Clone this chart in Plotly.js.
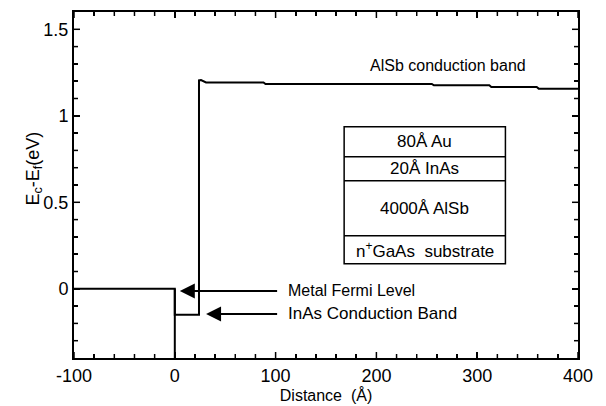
<!DOCTYPE html>
<html>
<head>
<meta charset="utf-8">
<script src="https://cdn.plot.ly/plotly-3.0.1.min.js"></script>
<style>html,body{margin:0;padding:0;background:#fff;}#chart{width:606px;height:406px;}</style>
</head>
<body>
<div id="chart"></div>
<script>
// Band profile (distance in Å, energy Ec-Ef in eV)
const distance = [-100, 0, 0, 24, 24, 26, 31, 88, 90, 255, 257, 312, 314, 359, 361, 400];
const energy   = [0, 0, -0.15, -0.15, 1.205, 1.207, 1.193, 1.193, 1.184, 1.184, 1.176, 1.176, 1.166, 1.166, 1.157, 1.156];
// Metal boundary
const metalX = [0, 0];
const metalY = [0, -0.4];

// Tick labels
const xTickVals = [-100, 0, 100, 200, 300, 400];
const xTickText = ["-100", "0", "100", "200", "300", "400"];
const yTickVals = [0, 0.5, 1, 1.5];
const yTickText = ["0", "0.5", "1", "1.5"];

// Layer stack inset (labels and layer boundaries in data units)
const layerLabels = ["80Å Au", "20Å InAs", "4000Å AlSb", "n<sup>+</sup>GaAs  substrate"];
const layerBounds = [0.936, 0.763, 0.624, 0.306, 0.145];
const boxX = [168, 328];

// Arrow labels
const arrowLabels = ["Metal Fermi Level", "InAs Conduction Band"];
const arrowHeadX = [5, 31];
const arrowY = [-0.012, -0.145];
const arrowTailX = 103;
const bandLabel = "AlSb conduction band";
const yTitle = "E<sub>c</sub>-E<sub>f</sub>(eV)";
const xTitle = "Distance  (Å)";

function draw() {
  const fam = "Liberation Sans, Arial, sans-serif";
  const tf = {family: fam, size: 18, color: "#000"};
  const X = [-100, 400], Y = [-0.4, 1.6];
  const plotW = 606 - 74 - 28, plotH = 406 - 12 - 48;

  const data = [
    {x: distance, y: energy, mode: "lines", line: {color: "#000", width: 2}, hoverinfo: "skip"},
    {x: metalX, y: metalY, mode: "lines", line: {color: "#000", width: 2}, hoverinfo: "skip"}
  ];

  const shapes = [];
  shapes.push({type: "rect", xref: "x", yref: "y", x0: boxX[0], x1: boxX[1],
    y0: layerBounds[layerBounds.length - 1], y1: layerBounds[0], line: {color: "#000", width: 1.5}});
  for (let i = 1; i < layerBounds.length - 1; i++) {
    shapes.push({type: "line", xref: "x", yref: "y", x0: boxX[0], x1: boxX[1],
      y0: layerBounds[i], y1: layerBounds[i], line: {color: "#000", width: 1.5}});
  }
  // fallback tick marks (inside, on all four sides)
  const tickShape = (isX, v, len) => {
    const out = [];
    if (isX) {
      const f = len / plotH;
      out.push({type: "line", xref: "x", yref: "paper", x0: v, x1: v, y0: 0, y1: f, line: {color: "#000", width: 1.5}});
      out.push({type: "line", xref: "x", yref: "paper", x0: v, x1: v, y0: 1 - f, y1: 1, line: {color: "#000", width: 1.5}});
    } else {
      const f = len / plotW;
      out.push({type: "line", xref: "paper", yref: "y", x0: 0, x1: f, y0: v, y1: v, line: {color: "#000", width: 1.5}});
      out.push({type: "line", xref: "paper", yref: "y", x0: 1 - f, x1: 1, y0: v, y1: v, line: {color: "#000", width: 1.5}});
    }
    return out;
  };
  for (let v = X[0]; v <= X[1] + 1e-9; v += 20) {
    shapes.push(...tickShape(true, v, xTickVals.includes(v) ? 6 : 4));
  }
  for (let k = -3; k <= 15; k++) {
    const v = Math.round(k * 10) / 100;
    shapes.push(...tickShape(false, v, yTickVals.includes(v) ? 6 : 4));
  }

  const annotations = [];
  const cx = (boxX[0] + boxX[1]) / 2;
  for (let i = 0; i < layerLabels.length; i++) {
    annotations.push({x: cx, y: (layerBounds[i] + layerBounds[i + 1]) / 2, xref: "x", yref: "y",
      text: layerLabels[i], showarrow: false, font: {family: fam, size: 17, color: "#000"}});
  }
  const arrowSizes = [16, 17];
  for (let i = 0; i < arrowLabels.length; i++) {
    annotations.push({x: arrowHeadX[i], y: arrowY[i], ax: arrowTailX, ay: arrowY[i],
      xref: "x", yref: "y", axref: "x", ayref: "y", text: "", showarrow: true,
      arrowhead: 2, arrowsize: 1.5, arrowwidth: 2, arrowcolor: "#000"});
    annotations.push({x: 110, y: arrowY[i], xref: "x", yref: "y", xanchor: "left",
      text: arrowLabels[i], showarrow: false, font: {family: fam, size: arrowSizes[i], color: "#000"}});
  }
  annotations.push({x: 271, y: 1.293, xref: "x", yref: "y", text: bandLabel, showarrow: false,
    font: {family: fam, size: 16, color: "#000"}});
  annotations.push({x: -54 / plotW, y: (358 - 169) / plotH, xref: "paper", yref: "paper", text: yTitle,
    textangle: -90, showarrow: false, font: {family: fam, size: 18, color: "#000"}});

  const layout = {
    width: 606, height: 406,
    margin: {l: 74, r: 28, t: 12, b: 48},
    paper_bgcolor: "#fff", plot_bgcolor: "#fff",
    showlegend: false,
    font: {family: fam, size: 18, color: "#000"},
    xaxis: {
      range: X, tickmode: "array", tickvals: xTickVals, ticktext: xTickText,
      ticks: "inside", ticklen: 6, tickwidth: 1.5, tickcolor: "#000",
      minor: {ticks: "inside", ticklen: 4, tickcolor: "#000", dtick: 20},
      showline: true, linewidth: 2, linecolor: "#000", mirror: "allticks",
      showgrid: false, zeroline: false, tickfont: tf,
      title: {text: xTitle, font: {family: fam, size: 16, color: "#000"}, standoff: 2}
    },
    yaxis: {
      range: Y, tickmode: "array", tickvals: yTickVals, ticktext: yTickText,
      ticks: "inside", ticklen: 6, tickwidth: 1.5, tickcolor: "#000",
      minor: {ticks: "inside", ticklen: 4, tickcolor: "#000", dtick: 0.1},
      showline: true, linewidth: 2, linecolor: "#000", mirror: "allticks",
      showgrid: false, zeroline: false, tickfont: tf
    },
    shapes: shapes,
    annotations: annotations
  };
  Plotly.newPlot("chart", data, layout, {staticPlot: true, displayModeBar: false});
}
draw();
</script>
</body>
</html>
